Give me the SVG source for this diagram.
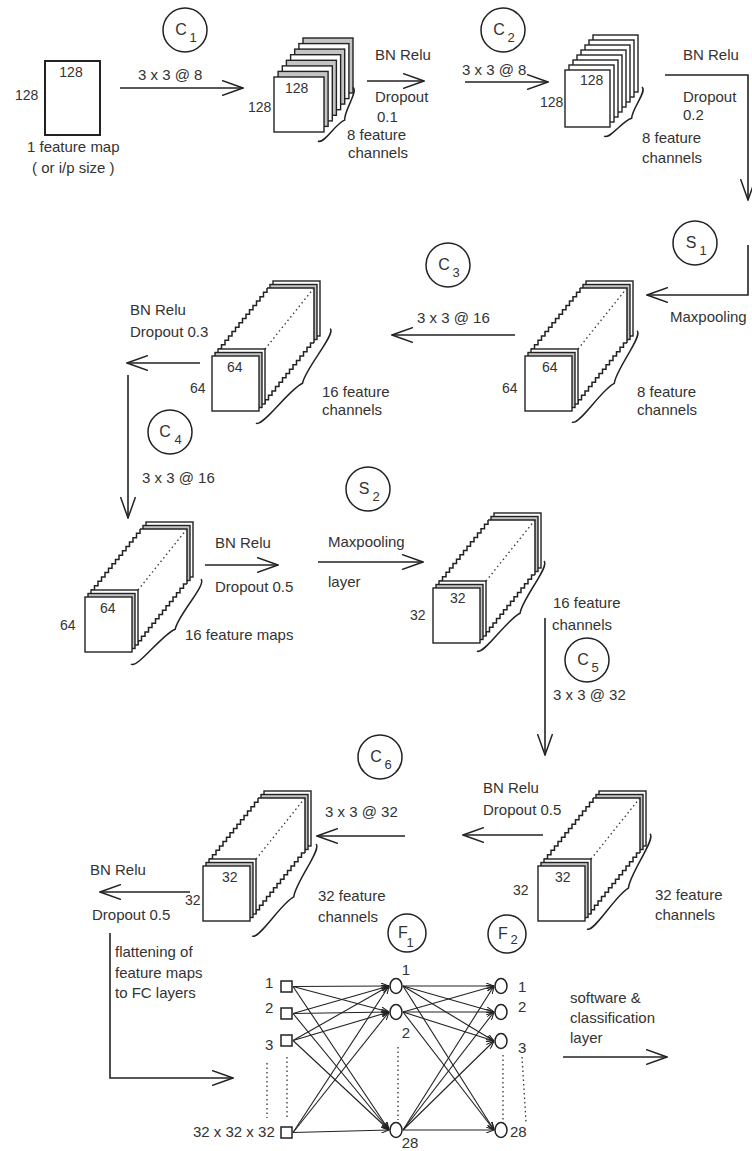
<svg xmlns="http://www.w3.org/2000/svg" width="752" height="1151" viewBox="0 0 752 1151">
<style>
text{font-family:"Liberation Sans",Arial,sans-serif;font-size:15px;fill:#333}
.n{font-size:14px}
.cl{font-size:16px}
.sub{font-size:13px}
.lay{fill:#fff;stroke:#222;stroke-width:1.4}
.lg{fill:#c4c4c4;stroke:#222;stroke-width:1.4}
.ln{fill:none;stroke:#222;stroke-width:1.5}
.dot{fill:none;stroke:#333;stroke-width:1.3;stroke-dasharray:1.5 3}
.br{fill:none;stroke:#222;stroke-width:1.5}
.cir{fill:none;stroke:#222;stroke-width:1.5}
.arr{fill:none;stroke:#222;stroke-width:1.6;marker-end:url(#ah)}
.fc{fill:none;stroke:#222;stroke-width:1.1;marker-end:url(#as)}
.neu{fill:#fff;stroke:#222;stroke-width:1.5}
</style>
<defs>
<marker id="ah" viewBox="0 0 22 16" refX="21" refY="8" markerWidth="22" markerHeight="16" markerUnits="userSpaceOnUse" orient="auto"><path d="M0,0.5 L21,8 L0,15.5" fill="none" stroke="#222" stroke-width="1.5"/></marker>
<marker id="as" viewBox="0 0 8 6" refX="8" refY="3" markerWidth="8" markerHeight="6" markerUnits="userSpaceOnUse" orient="auto"><path d="M0,0 L8,3 L0,6" fill="none" stroke="#222" stroke-width="1.1"/></marker>
<g id="prism">
<rect class="lay" x="61" y="-75" width="47" height="55"/>
<rect class="lg" x="58" y="-71.5" width="47" height="55"/>
<polygon points="6,48 6,-7 55,-68 102,-68 102,-13 53,48" fill="#fff"/>
<path class="ln" d="M55,-68H102V-13"/>
<path class="ln" d="M6,-7h3.5v-4.357h3.5v-4.357h3.5v-4.357h3.5v-4.357h3.5v-4.357h3.5v-4.357h3.5v-4.357h3.5v-4.357h3.5v-4.357h3.5v-4.357h3.5v-4.357h3.5v-4.357h3.5v-4.357h3.5v-4.357"/>
<path class="ln" d="M53,48v-4.357h3.5v-4.357h3.5v-4.357h3.5v-4.357h3.5v-4.357h3.5v-4.357h3.5v-4.357h3.5v-4.357h3.5v-4.357h3.5v-4.357h3.5v-4.357h3.5v-4.357h3.5v-4.357h3.5v-4.357h3.5"/>
<path class="dot" d="M53,-7L102,-68"/>
<rect class="lay" x="6" y="-7" width="47" height="55"/>
<rect class="lg" x="3" y="-3.5" width="47" height="55"/>
<rect class="lay" x="0" y="0" width="47" height="55"/>
</g>
</defs>
<rect width="752" height="1151" fill="#fff"/>

<g id="input">
<rect x="45" y="61" width="55" height="74" fill="#fff" stroke="#222" stroke-width="2"/>
<text class="n" x="71" y="77" text-anchor="middle">128</text>
<text class="n" x="15" y="100">128</text>
<text x="27" y="152">1 feature map</text>
<text x="32" y="173">( or i/p size )</text>
</g>

<g id="stack1">
<rect class="lg" x="303" y="38" width="50" height="55"/>
<rect class="lay" x="298.9" y="43.6" width="50" height="55"/>
<rect class="lg" x="294.7" y="49.1" width="50" height="55"/>
<rect class="lay" x="290.6" y="54.7" width="50" height="55"/>
<rect class="lg" x="286.4" y="60.3" width="50" height="55"/>
<rect class="lay" x="282.3" y="65.9" width="50" height="55"/>
<rect class="lg" x="278.1" y="71.4" width="50" height="55"/>
<rect class="lay" x="274" y="77" width="50" height="55"/>
<text class="n" x="285" y="93">128</text>
<text class="n" x="248" y="112">128</text>
<path class="br" transform="translate(318,141) rotate(-57)" d="M0,0 C0,7 24,5 32,11 C40,5 64,7 64,0"/>
<text x="347" y="140">8 feature</text>
<text x="348" y="158">channels</text>
</g>

<g id="stack2">
<rect class="lay" x="593" y="35" width="45" height="57"/>
<rect class="lay" x="589" y="40" width="45" height="57"/>
<rect class="lay" x="585" y="45" width="45" height="57"/>
<rect class="lay" x="581" y="50" width="45" height="57"/>
<rect class="lay" x="577" y="55" width="45" height="57"/>
<rect class="lay" x="573" y="60" width="45" height="57"/>
<rect class="lay" x="569" y="65" width="45" height="57"/>
<rect class="lay" x="565" y="70" width="45" height="57"/>
<text class="n" x="580" y="85">128</text>
<text class="n" x="540" y="107">128</text>
<path class="br" transform="translate(604,136) rotate(-52.2)" d="M0,0 C0,7 23,5 31,11 C39,5 62,7 62,0"/>
<text x="642" y="143">8 feature</text>
<text x="642" y="163">channels</text>
</g>

<g id="stack3r">
<use href="#prism" x="525" y="356"/>
<text class="n" x="542" y="372">64</text>
<text class="n" x="502" y="393">64</text>
<path class="br" transform="translate(572,422) rotate(-54.5)" d="M0,0 C0,8 44,5 56,12 C68,5 112,8 112,0"/>
<text x="637" y="397">8 feature</text>
<text x="637" y="415">channels</text>
</g>

<g id="stack3l">
<use href="#prism" x="212" y="356"/>
<text class="n" x="227" y="372">64</text>
<text class="n" x="190" y="393">64</text>
<path class="br" transform="translate(256,423) rotate(-51.8)" d="M0,0 C0,8 47,5 60,12 C73,5 120,8 120,0"/>
<text x="322" y="397">16 feature</text>
<text x="322" y="415">channels</text>
</g>

<g id="stack4">
<use href="#prism" x="85" y="597"/>
<text class="n" x="100" y="613">64</text>
<text class="n" x="60" y="630">64</text>
<path class="br" transform="translate(131,664) rotate(-50.5)" d="M0,0 C0,8 43,5 55,12 C67,5 110,8 110,0"/>
<text x="185" y="640">16 feature maps</text>
</g>

<g id="stack5">
<use href="#prism" x="433" y="588"/>
<text class="n" x="450" y="603">32</text>
<text class="n" x="410" y="620">32</text>
<path class="br" transform="translate(477,651) rotate(-53.3)" d="M0,0 C0,8 44,5 56,12 C68,5 112,8 112,0"/>
<text x="553" y="608">16 feature</text>
<text x="552" y="630">channels</text>
</g>

<g id="stack6">
<use href="#prism" x="538" y="866"/>
<text class="n" x="555" y="882">32</text>
<text class="n" x="513" y="895">32</text>
<path class="br" transform="translate(587,929) rotate(-56.5)" d="M0,0 C0,8 45,5 57,12 C69,5 114,8 114,0"/>
<text x="655" y="900">32 feature</text>
<text x="655" y="920">channels</text>
</g>

<g id="stack7">
<use href="#prism" x="203" y="866"/>
<text class="n" x="222" y="882">32</text>
<text class="n" x="185" y="905">32</text>
<path class="br" transform="translate(252,936) rotate(-55.2)" d="M0,0 C0,8 44,5 56,12 C68,5 112,8 112,0"/>
<text x="318" y="901">32 feature</text>
<text x="318" y="922">channels</text>
</g>

<g id="c1"><circle class="cir" cx="185" cy="30" r="22"/><text class="cl" x="181" y="35" text-anchor="middle">C</text><text class="sub" x="193" y="42" text-anchor="middle">1</text></g>
<g id="c2"><circle class="cir" cx="503" cy="30" r="22"/><text class="cl" x="499" y="35" text-anchor="middle">C</text><text class="sub" x="511" y="42" text-anchor="middle">2</text></g>
<g id="s1"><circle class="cir" cx="695" cy="243" r="22"/><text class="cl" x="691" y="248" text-anchor="middle">S</text><text class="sub" x="703" y="255" text-anchor="middle">1</text></g>
<g id="c3"><circle class="cir" cx="448" cy="265" r="22"/><text class="cl" x="444" y="270" text-anchor="middle">C</text><text class="sub" x="456" y="277" text-anchor="middle">3</text></g>
<g id="c4"><circle class="cir" cx="170" cy="432" r="22"/><text class="cl" x="165" y="437" text-anchor="middle">C</text><text class="sub" x="178" y="444" text-anchor="middle">4</text></g>
<g id="s2"><circle class="cir" cx="368" cy="489" r="22"/><text class="cl" x="364" y="494" text-anchor="middle">S</text><text class="sub" x="376" y="501" text-anchor="middle">2</text></g>
<g id="c5"><circle class="cir" cx="587" cy="660" r="22"/><text class="cl" x="583" y="665" text-anchor="middle">C</text><text class="sub" x="595" y="672" text-anchor="middle">5</text></g>
<g id="c6"><circle class="cir" cx="380" cy="757" r="22"/><text class="cl" x="376" y="762" text-anchor="middle">C</text><text class="sub" x="388" y="769" text-anchor="middle">6</text></g>
<g id="f1"><circle class="cir" cx="407" cy="933" r="19"/><text class="cl" x="403" y="938" text-anchor="middle">F</text><text class="sub" x="410" y="947" text-anchor="middle">1</text></g>
<g id="f2"><circle class="cir" cx="507" cy="934" r="19"/><text class="cl" x="503" y="939" text-anchor="middle">F</text><text class="sub" x="514" y="944" text-anchor="middle">2</text></g>

<g id="labels">
<text x="138" y="80">3 x 3 @ 8</text>
<text x="375" y="60">BN Relu</text>
<text x="375" y="102">Dropout</text>
<text x="377" y="122">0.1</text>
<text x="462" y="75">3 x 3 @ 8</text>
<text x="683" y="60">BN Relu</text>
<text x="683" y="102">Dropout</text>
<text x="683" y="120">0.2</text>
<text x="670" y="322">Maxpooling</text>
<text x="417" y="323">3 x 3 @ 16</text>
<text x="130" y="315">BN Relu</text>
<text x="130" y="337">Dropout 0.3</text>
<text x="142" y="483">3 x 3 @ 16</text>
<text x="215" y="548">BN Relu</text>
<text x="215" y="592">Dropout 0.5</text>
<text x="328" y="547">Maxpooling</text>
<text x="328" y="587">layer</text>
<text x="553" y="700">3 x 3 @ 32</text>
<text x="483" y="793">BN Relu</text>
<text x="483" y="815">Dropout 0.5</text>
<text x="325" y="817">3 x 3 @ 32</text>
<text x="90" y="875">BN Relu</text>
<text x="92" y="920">Dropout 0.5</text>
<text x="115" y="957">flattening of</text>
<text x="115" y="978">feature maps</text>
<text x="115" y="998">to FC layers</text>
<text x="570" y="1003">software &amp;</text>
<text x="570" y="1023">classification</text>
<text x="570" y="1043">layer</text>
</g>

<g id="connectors">
<line class="arr" x1="120" y1="88" x2="243" y2="88"/>
<line class="arr" x1="367" y1="81" x2="424" y2="81"/>
<line class="arr" x1="465" y1="82" x2="548" y2="82"/>
<polyline class="arr" points="665,75 748,75 748,200"/>
<polyline class="arr" points="748,245 748,295 647,295"/>
<line class="arr" x1="515" y1="335" x2="392" y2="335"/>
<line class="arr" x1="200" y1="363" x2="127" y2="363"/>
<line class="arr" x1="128" y1="375" x2="128" y2="518"/>
<line class="arr" x1="205" y1="565" x2="278" y2="565"/>
<line class="arr" x1="318" y1="562" x2="423" y2="562"/>
<line class="arr" x1="545" y1="618" x2="545" y2="755"/>
<line class="arr" x1="543" y1="835" x2="463" y2="835"/>
<line class="arr" x1="405" y1="836" x2="317" y2="836"/>
<line class="arr" x1="190" y1="892" x2="100" y2="892"/>
<polyline class="arr" points="110,933 110,1078 233,1078"/>
<line class="arr" x1="563" y1="1057" x2="667" y2="1057"/>
<g id="fc-links">
<line class="fc" x1="293" y1="986.5" x2="389" y2="986"/>
<line class="fc" x1="293" y1="986.5" x2="389" y2="1012"/>
<line class="fc" x1="293" y1="986.5" x2="389" y2="1130"/>
<line class="fc" x1="293" y1="1013.5" x2="389" y2="986"/>
<line class="fc" x1="293" y1="1013.5" x2="389" y2="1012"/>
<line class="fc" x1="293" y1="1013.5" x2="389" y2="1130"/>
<line class="fc" x1="293" y1="1040.5" x2="389" y2="986"/>
<line class="fc" x1="293" y1="1040.5" x2="389" y2="1012"/>
<line class="fc" x1="293" y1="1040.5" x2="389" y2="1130"/>
<line class="fc" x1="293" y1="1132.5" x2="389" y2="986"/>
<line class="fc" x1="293" y1="1132.5" x2="389" y2="1012"/>
<line class="fc" x1="293" y1="1132.5" x2="389" y2="1130"/>
<line class="fc" x1="403" y1="986" x2="494" y2="986"/>
<line class="fc" x1="403" y1="986" x2="494" y2="1012"/>
<line class="fc" x1="403" y1="986" x2="494" y2="1041"/>
<line class="fc" x1="403" y1="986" x2="494" y2="1130"/>
<line class="fc" x1="403" y1="1012" x2="494" y2="986"/>
<line class="fc" x1="403" y1="1012" x2="494" y2="1012"/>
<line class="fc" x1="403" y1="1012" x2="494" y2="1041"/>
<line class="fc" x1="403" y1="1012" x2="494" y2="1130"/>
<line class="fc" x1="403" y1="1130" x2="494" y2="986"/>
<line class="fc" x1="403" y1="1130" x2="494" y2="1012"/>
<line class="fc" x1="403" y1="1130" x2="494" y2="1041"/>
<line class="fc" x1="403" y1="1130" x2="494" y2="1130"/>
</g>
<path class="dot" d="M267,1063V1118M287,1057V1117M398,1047V1120M503,1055V1120M522,1057L526,1122"/>
</g>

<g id="fc-input">
<g id="in1"><rect class="neu" x="281" y="981" width="11" height="11"/><text x="265" y="988">1</text></g>
<g id="in2"><rect class="neu" x="281" y="1008" width="11" height="11"/><text x="265" y="1013">2</text></g>
<g id="in3"><rect class="neu" x="281" y="1035" width="11" height="11"/><text x="265" y="1050">3</text></g>
<g id="in4"><rect class="neu" x="281" y="1127" width="11" height="11"/><text x="193" y="1137">32 x 32 x 32</text></g>
</g>
<g id="fc-f1">
<g id="f1n1"><ellipse class="neu" cx="396" cy="986" rx="6" ry="7.5"/><text x="406" y="975" text-anchor="middle">1</text></g>
<g id="f1n2"><ellipse class="neu" cx="396" cy="1012" rx="6" ry="7.5"/><text x="406" y="1038" text-anchor="middle">2</text></g>
<g id="f1n28"><ellipse class="neu" cx="396" cy="1130" rx="6" ry="7.5"/><text x="410" y="1148" text-anchor="middle">28</text></g>
</g>
<g id="fc-f2">
<g id="f2n1"><ellipse class="neu" cx="501" cy="986" rx="6" ry="7.5"/><text x="518" y="992">1</text></g>
<g id="f2n2"><ellipse class="neu" cx="501" cy="1012" rx="6" ry="7.5"/><text x="518" y="1012">2</text></g>
<g id="f2n3"><ellipse class="neu" cx="501" cy="1041" rx="6" ry="7.5"/><text x="518" y="1053">3</text></g>
<g id="f2n28"><ellipse class="neu" cx="501" cy="1130" rx="6" ry="7.5"/><text x="510" y="1137">28</text></g>
</g>
</svg>
